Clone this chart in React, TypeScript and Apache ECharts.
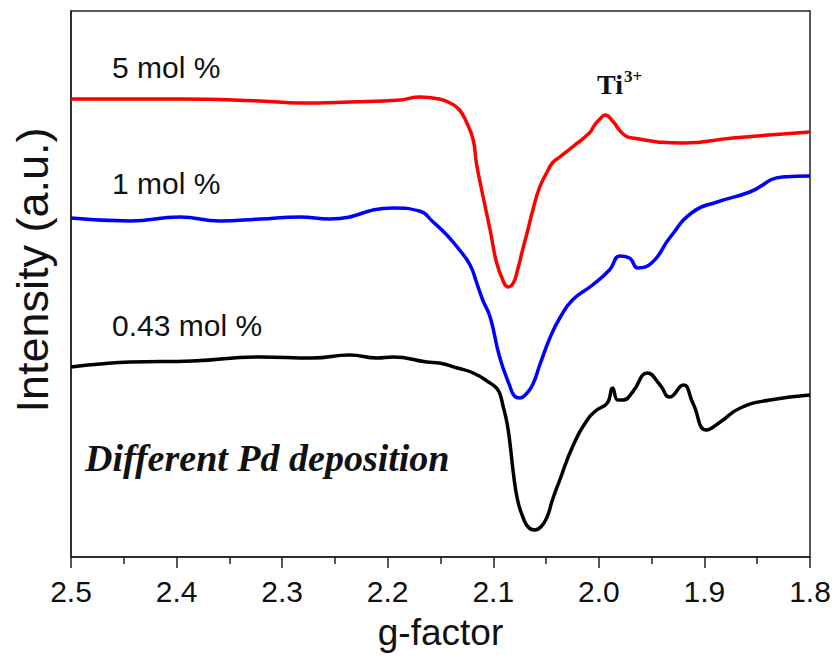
import React, { useEffect, useRef } from "react";
import * as echarts from "echarts";

// g-factor tick labels
const xTicks = ["2.5", "2.4", "2.3", "2.2", "2.1", "2.0", "1.9", "1.8"];

// [g-factor, intensity (a.u.)]
const red5: [number, number][] = [
  [2.5, 458], [2.444, 458], [2.397, 458], [2.321, 456], [2.283, 454], [2.236, 455],
  [2.188, 457], [2.17, 460], [2.151, 458], [2.141, 454], [2.132, 447], [2.125, 434],
  [2.119, 417], [2.116, 394], [2.11, 362], [2.103, 327], [2.097, 295], [2.091, 277],
  [2.086, 270], [2.081, 274], [2.077, 287], [2.073, 304], [2.068, 324], [2.062, 349],
  [2.056, 370], [2.049, 385], [2.044, 394], [2.037, 400], [2.025, 410], [2.009, 424],
  [2.004, 432], [1.999, 438], [1.994, 442], [1.987, 436], [1.977, 423], [1.968, 419],
  [1.92, 414], [1.873, 419], [1.8, 425],
];

const blue1: [number, number][] = [
  [2.5, 339], [2.444, 336], [2.397, 340], [2.359, 336], [2.321, 338], [2.283, 340],
  [2.255, 338], [2.195, 349], [2.17, 346], [2.157, 335], [2.144, 322], [2.132, 307],
  [2.122, 292], [2.116, 275], [2.11, 257], [2.103, 240], [2.094, 200], [2.084, 170],
  [2.08, 161], [2.075, 159], [2.068, 164], [2.062, 174], [2.056, 192], [2.046, 220],
  [2.037, 239], [2.025, 257], [2.006, 272], [1.99, 287], [1.98, 301], [1.971, 299],
  [1.963, 289], [1.949, 295], [1.933, 319], [1.911, 345], [1.888, 355], [1.857, 365],
  [1.826, 380], [1.8, 381],
];

const black043: [number, number][] = [
  [2.5, 190], [2.4725, 193], [2.444, 195], [2.385, 196], [2.321, 200], [2.271, 199],
  [2.236, 202], [2.21, 199], [2.195, 200], [2.163, 195], [2.151, 194], [2.134, 189],
  [2.119, 184], [2.103, 174], [2.097, 169], [2.094, 164], [2.091, 152], [2.087, 134],
  [2.084, 112], [2.081, 84], [2.077, 57], [2.072, 40], [2.067, 30], [2.061, 27],
  [2.055, 30], [2.049, 40], [2.044, 57], [2.037, 77], [2.025, 110], [2.011, 137],
  [2.002, 147], [1.992, 154], [1.987, 169], [1.982, 157], [1.977, 157], [1.968, 165],
  [1.954, 184], [1.942, 172], [1.933, 160], [1.92, 172], [1.911, 154], [1.898, 127],
  [1.885, 135], [1.866, 149], [1.838, 157], [1.8, 162],
];

const seriesNames = ["5 mol %", "1 mol %", "0.43 mol %"];

export default function App() {
  const ref = useRef<HTMLDivElement>(null);
  useEffect(() => {
    if (!ref.current) return;
    const chart = echarts.init(ref.current, null, { renderer: "svg" });
    const sans = "Arial, 'Liberation Sans', sans-serif";
    const serif = "'Times New Roman', 'Liberation Serif', serif";
    chart.setOption({
      animation: false,
      backgroundColor: "#fff",
      grid: {
        left: 71,
        right: 27,
        top: 11,
        bottom: 107,
        show: true,
        borderColor: "#222",
        borderWidth: 1.5,
      },
      xAxis: {
        type: "value",
        min: 1.8,
        max: 2.5,
        interval: 0.1,
        inverse: true,
        name: "g-factor",
        nameLocation: "middle",
        nameGap: 57,
        nameTextStyle: { fontFamily: sans, fontSize: 37, color: "#111" },
        axisLine: { show: true, onZero: false, lineStyle: { color: "#222", width: 1.5 } },
        axisTick: { show: true, inside: false, length: 11, lineStyle: { color: "#222", width: 1.5 } },
        minorTick: { show: true, splitNumber: 2, length: 7, lineStyle: { color: "#222", width: 1.5 } },
        splitLine: { show: false },
        axisLabel: {
          fontFamily: sans,
          fontSize: 30,
          color: "#111",
          margin: 19,
          formatter: (v: number) => {
            const s = v.toFixed(1);
            return xTicks.includes(s) ? s : "";
          },
        },
      },
      yAxis: {
        type: "value",
        min: 0,
        max: 546,
        name: "Intensity (a.u.)",
        nameLocation: "middle",
        nameGap: 16,
        nameTextStyle: { fontFamily: sans, fontSize: 45, color: "#111", padding: [0, 0, 0, 28] },
        axisLine: { show: true, lineStyle: { color: "#222", width: 1.5 } },
        axisTick: { show: false },
        axisLabel: { show: false },
        splitLine: { show: false },
      },
      series: [
        { name: seriesNames[0], data: red5, color: "#ff0000" },
        { name: seriesNames[1], data: blue1, color: "#0000ff" },
        { name: seriesNames[2], data: black043, color: "#000000" },
      ].map((s) => ({
        type: "line",
        name: s.name,
        data: s.data,
        smooth: 0.5,
        showSymbol: false,
        lineStyle: { color: s.color, width: 3.5 },
      })),
      graphic: [
        { type: "text", left: 112, top: 52, style: { text: seriesNames[0], font: `30px ${sans}`, fill: "#111" } },
        { type: "text", left: 112, top: 168, style: { text: seriesNames[1], font: `30px ${sans}`, fill: "#111" } },
        { type: "text", left: 112, top: 310, style: { text: seriesNames[2], font: `30px ${sans}`, fill: "#111" } },
        { type: "text", left: 597, top: 70, style: { text: "Ti", font: `bold 28px ${serif}`, fill: "#111" } },
        { type: "text", left: 624, top: 68, style: { text: "3+", font: `bold 17px ${serif}`, fill: "#111" } },
        {
          type: "text",
          left: 85,
          top: 439,
          style: { text: "Different Pd deposition", font: `italic bold 38px ${serif}`, fill: "#111" },
        },
      ],
    });
    return () => chart.dispose();
  }, []);
  return <div ref={ref} style={{ position: "fixed", left: 0, top: 0, width: 837, height: 664 }} />;
}
